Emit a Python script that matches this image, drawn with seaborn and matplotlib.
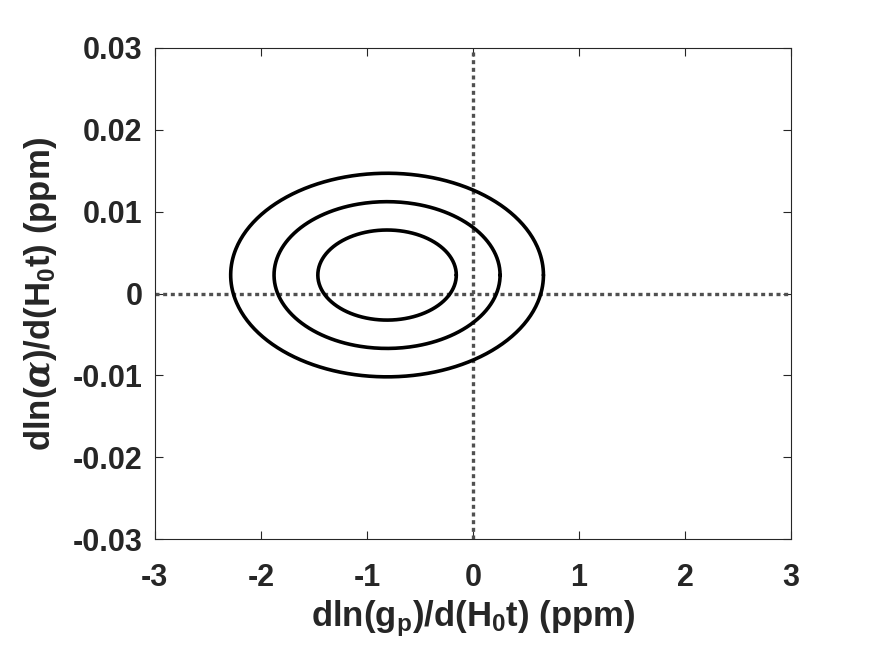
import numpy as np
import pandas as pd
import seaborn as sns
import matplotlib
matplotlib.use("Agg")
import matplotlib.pyplot as plt

# contour ellipses (1, 2, 3 sigma)
center_x = -0.81
center_y = 0.00226
semi_x = [0.653, 1.066, 1.475]
semi_y = [0.0055, 0.00896, 0.01243]
levels = ["1sigma", "2sigma", "3sigma"]

x_ticks = [-3, -2, -1, 0, 1, 2, 3]
y_ticks = [-0.03, -0.02, -0.01, 0, 0.01, 0.02, 0.03]
y_ticklabels = ["-0.03", "-0.02", "-0.01", "0", "0.01", "0.02", "0.03"]

sns.set_style("ticks")
plt.rcParams["font.family"] = ["Liberation Sans", "DejaVu Sans"]
plt.rcParams["font.weight"] = "bold"
plt.rcParams["axes.unicode_minus"] = False
plt.rcParams["mathtext.fontset"] = "custom"
plt.rcParams["mathtext.rm"] = "Liberation Sans:bold"
plt.rcParams["mathtext.bf"] = "Liberation Sans:bold"
plt.rcParams["mathtext.it"] = "DejaVu Serif:italic"

# build the contour outlines
t = np.linspace(0, 2 * np.pi, 400)
rows = []
for lev, a, b in zip(levels, semi_x, semi_y):
    rows.append(pd.DataFrame({
        "x": center_x + a * np.cos(t),
        "y": center_y + b * np.sin(t),
        "level": lev}))
df = pd.concat(rows, ignore_index=True)

fig = plt.figure(figsize=(8.75, 6.56), dpi=100)
ax = fig.add_axes([0.177, 0.178, 0.727, 0.749])

ax.axvline(0, color="#505050", lw=2.4, ls=(0, (1.2, 1.1)), zorder=1)
ax.axhline(0, color="#505050", lw=2.4, ls=(0, (1.2, 1.1)), zorder=1)

for lev in levels:
    sub = df[df["level"] == lev]
    sns.lineplot(data=sub, x="x", y="y", sort=False, estimator=None,
                 color="black", lw=2.6, ax=ax, zorder=2)

ax.set_xlim(-3, 3)
ax.set_ylim(-0.03, 0.03)
ax.set_xticks(x_ticks)
ax.set_xticklabels([str(v) for v in x_ticks])
ax.set_yticks(y_ticks)
ax.set_yticklabels(y_ticklabels)
ax.tick_params(direction="in", length=6, width=0.8, top=True, right=True,
               labelsize=22, colors="#262626")
ax.tick_params(axis="x", pad=17)
ax.tick_params(axis="y", pad=9)
for lab in ax.get_xticklabels() + ax.get_yticklabels():
    lab.set_fontweight("bold")
for s in ax.spines.values():
    s.set_linewidth(0.8)
    s.set_color("#262626")
    s.set_visible(True)

ax.set_xlabel(r"dln(g$_\mathrm{p}$)/d(H$_\mathrm{0}$t) (ppm)", fontsize=25,
              fontweight="bold", color="#262626", labelpad=4)
ax.set_ylabel(r"dln($\alpha$)/d(H$_\mathrm{0}$t) (ppm)", fontsize=25,
              fontweight="bold", color="#262626", labelpad=10)

fig.savefig("out.png", dpi=100, facecolor="white")
